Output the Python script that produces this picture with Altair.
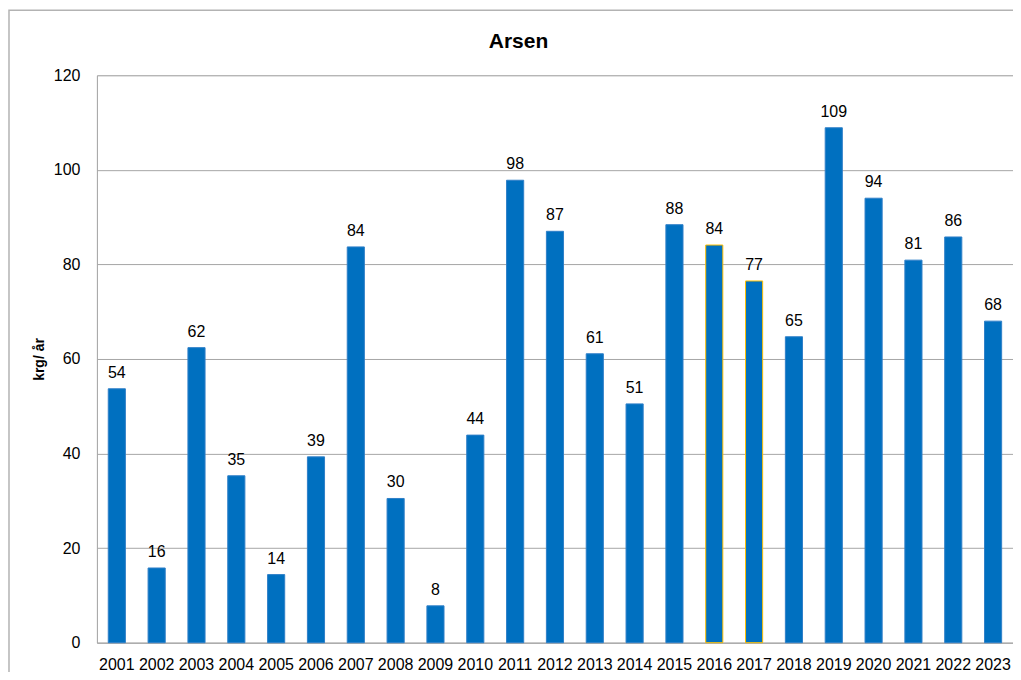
import altair as alt
import pandas as pd

years = [str(y) for y in range(2001, 2024)]
values = [53.7, 15.8, 62.4, 35.3, 14.4, 39.3, 83.7, 30.5, 7.8, 43.9, 97.8, 87.0,
          61.1, 50.5, 88.4, 84.1, 76.5, 64.7, 108.9, 94.0, 80.9, 85.8, 68.0]
labels = ["54", "16", "62", "35", "14", "39", "84", "30", "8", "44", "98", "87",
          "61", "51", "88", "84", "77", "65", "109", "94", "81", "86", "68"]
outlined = ["2016", "2017"]
title_text = "Arsen"

df = pd.DataFrame({"year": years, "value": values, "label": labels})
df["outline"] = df["year"].isin(outlined)

FONT = "Liberation Sans"

xenc = alt.X("year:N", sort=years, title=None,
             scale=alt.Scale(paddingInner=0.57, paddingOuter=0.285),
             axis=alt.Axis(labelAngle=0, labelFontSize=16, labelFont=FONT,
                           labelColor="black", ticks=False, labelPadding=14,
                           domainColor="#a6a6a6", grid=False))
yenc = alt.Y("value:Q", title="krg/ år",
             scale=alt.Scale(domain=[0, 120], nice=False),
             axis=alt.Axis(values=[0, 20, 40, 60, 80, 100, 120], labelFontSize=16,
                           labelFont=FONT, labelColor="black", ticks=False,
                           labelPadding=17, domainColor="#a6a6a6",
                           gridColor="#a6a6a6", gridWidth=1,
                           titleFont=FONT, titleFontSize=14, titleFontWeight="bold",
                           titleColor="black", titleAngle=270, titleX=-57,
                           titleY=284, titleAlign="center", titleBaseline="middle"))

bars = alt.Chart(df).mark_bar(color="#0070C0").encode(
    x=xenc, y=yenc,
    stroke=alt.condition("datum.outline", alt.value("#FFC000"), alt.value("#2f7fc8")),
    strokeWidth=alt.value(1),
)

text = alt.Chart(df).mark_text(baseline="bottom", dy=-8, fontSize=16, font=FONT,
                               color="black").encode(
    x=alt.X("year:N", sort=years), y="value:Q", text="label:N")

one = pd.DataFrame({"t": [title_text]})

border = alt.Chart(one).mark_rect(
    fill=None, stroke="#b3b3b3", strokeWidth=1.5).encode(
    x=alt.value(-88), x2=alt.value(1100), y=alt.value(-65), y2=alt.value(800))

title = alt.Chart(one).mark_text(fontSize=21, font=FONT, fontWeight="bold",
                                 color="black", baseline="middle", align="center").encode(
    x=alt.value(422), y=alt.value(-33), text="t:N")

chart = alt.layer(border, bars, text, title).properties(
    width=917, height=568,
    autosize=alt.AutoSizeParams(type="none"),
    padding={"left": 89, "top": 67, "right": 0, "bottom": 29},
).configure_view(stroke=None).configure(background="white")

chart.save("out.html", embed_options={"renderer": "svg", "actions": False})
